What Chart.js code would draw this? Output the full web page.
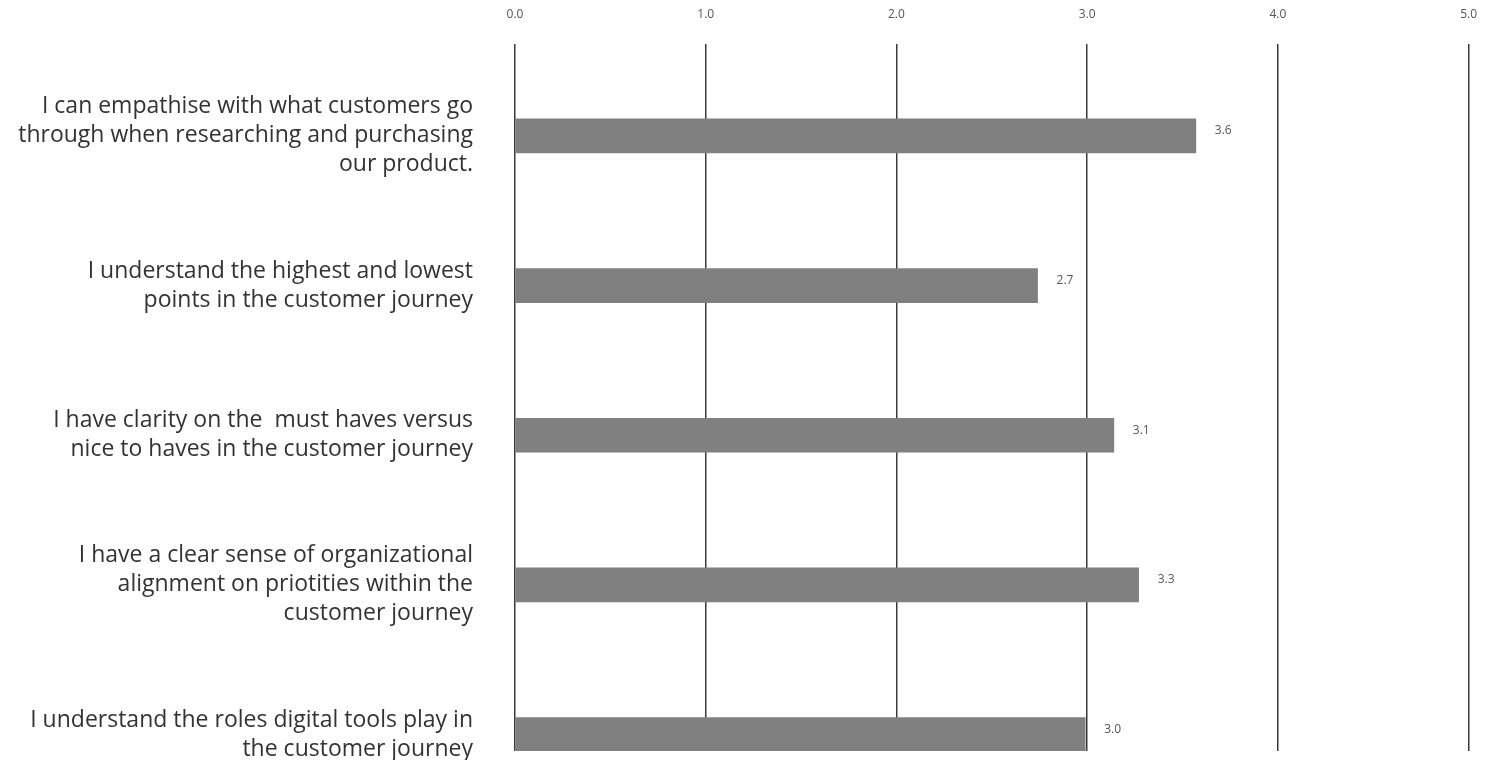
<!DOCTYPE html>
<html>
<head>
<meta charset="utf-8">
<script src="https://cdn.jsdelivr.net/npm/chart.js@4"></script>
<style>
  html, body { margin: 0; padding: 0; background: #fff; }
  #wrap { width: 1499px; height: 760px; position: relative; }
</style>
</head>
<body>
<div id="wrap"><canvas id="surveyChart"></canvas></div>
<script>
const statements = [
    ['I can empathise with what customers go', 'through when researching and purchasing', 'our product.'],
    ['I understand the highest and lowest', 'points in the customer journey'],
    ['I have clarity on the  must haves versus', 'nice to haves in the customer journey'],
    ['I have a clear sense of organizational', 'alignment on priotities within the', 'customer journey'],
    ['I understand the roles digital tools play in', 'the customer journey']
];
const scores = [3.57, 2.74, 3.14, 3.27, 2.99];
const axisTicks = [0, 1, 2, 3, 4, 5];

const barColor = '#808080';
const gridColor = '#3a3a3a';
const fontFamily = '"Open Sans", "Noto Sans", sans-serif';

// draws the score just to the right of each bar
const valueLabels = {
    id: 'valueLabels',
    afterDatasetsDraw(chart) {
        const ctx = chart.ctx;
        const meta = chart.getDatasetMeta(0);
        ctx.save();
        ctx.font = '12px ' + fontFamily;
        ctx.fillStyle = '#555';
        ctx.textAlign = 'left';
        ctx.textBaseline = 'middle';
        meta.data.forEach((bar, i) => {
            ctx.fillText(scores[i].toFixed(1), bar.x + 19, bar.y - 5);
        });
        ctx.restore();
    }
};

const ctx = document.getElementById('surveyChart').getContext('2d');
new Chart(ctx, {
    type: 'bar',
    data: {
        datasets: [{
            data: scores.map((v, i) => ({ x: v, y: i })),
            backgroundColor: barColor,
            borderWidth: 0,
            barThickness: 34
        }]
    },
    plugins: [valueLabels],
    options: {
        indexAxis: 'y',
        responsive: true,
        maintainAspectRatio: false,
        animation: false,
        layout: { padding: { top: 0, right: 30, bottom: 9, left: 0 } },
        scales: {
            x: {
                position: 'top',
                min: 0,
                max: 5,
                afterBuildTicks: scale => { scale.ticks = axisTicks.map(v => ({ value: v })); },
                afterFit: scale => { scale.height = 44; },
                ticks: {
                    callback: v => Number(v).toFixed(1),
                    color: '#555',
                    padding: 22,
                    font: { family: fontFamily, size: 12 }
                },
                grid: { color: gridColor, lineWidth: 1.5, drawTicks: false },
                border: { display: false }
            },
            y: {
                type: 'linear',
                reverse: true,
                offset: false,
                min: -0.614,
                max: 4.11,
                afterBuildTicks: scale => { scale.ticks = statements.map((s, i) => ({ value: i })); },
                afterFit: scale => {
                    scale.width = 515;
                    scale.paddingTop = 0;
                    scale.paddingBottom = 0;
                },
                ticks: {
                    callback: v => statements[v],
                    color: '#333',
                    padding: 34,
                    font: { family: fontFamily, size: 23, lineHeight: 1.26 }
                },
                grid: { display: false, offset: false },
                border: { display: false }
            }
        },
        plugins: {
            legend: { display: false },
            tooltip: { enabled: false }
        }
    }
});
</script>
</body>
</html>
